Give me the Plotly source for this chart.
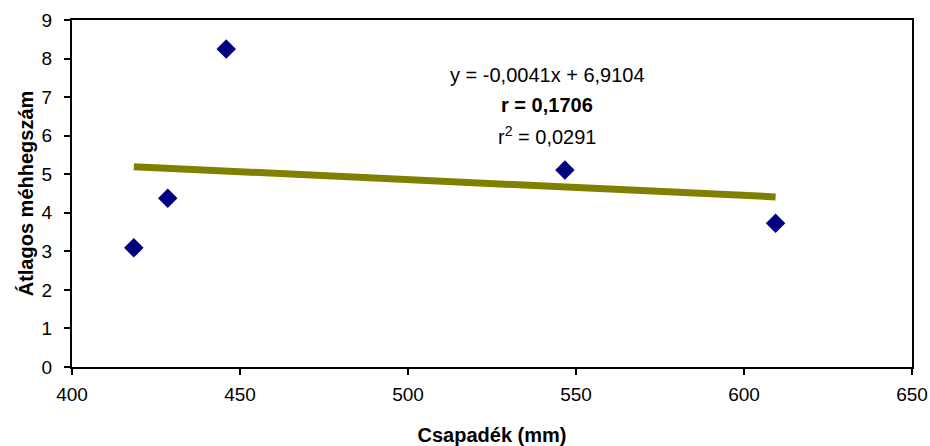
import plotly.graph_objects as go

# Annual rainfall (mm) vs. average number of uterine (méhheg) cases
rainfall = [418.4, 428.5, 445.9, 546.7, 609.4]
avg_count = [3.09, 4.38, 8.25, 5.11, 3.73]

# Linear trend: y = slope * x + intercept
slope = -0.0041
intercept = 6.9104
r_value = "0,1706"
r2_value = "0,0291"

x_ticks = [400, 450, 500, 550, 600, 650]
y_ticks = list(range(0, 10))

trend_x = [min(rainfall), max(rainfall)]
trend_y = [slope * x + intercept for x in trend_x]

font_family = "Liberation Sans, Arial, sans-serif"

fig = go.Figure()
fig.add_trace(go.Scatter(
    x=trend_x, y=trend_y, mode="lines",
    line=dict(color="#808000", width=7),
    hoverinfo="skip", showlegend=False,
))
fig.add_trace(go.Scatter(
    x=rainfall, y=avg_count, mode="markers",
    marker=dict(symbol="diamond", size=15, color="#000080"),
    showlegend=False,
))

# Regression statistics, one line per annotation
stat_lines = [
    f"y = {slope:.4f}x + {intercept:.4f}".replace(".", ","),
    f"<b>r = {r_value}</b>",
    f"r<sup>2</sup> = {r2_value}",
]
stat_y = [0.841, 0.755, 0.667]
for text, yy in zip(stat_lines, stat_y):
    fig.add_annotation(
        x=0.566, y=yy, xref="paper", yref="paper",
        text=text, showarrow=False, align="center",
        xanchor="center", yanchor="middle",
        font=dict(family=font_family, size=20, color="black"),
    )

axis_common = dict(
    showline=True, linecolor="black", linewidth=2, mirror=True,
    ticks="outside", ticklen=6, tickwidth=1.5, tickcolor="black",
    showgrid=False, zeroline=False, automargin=False,
    tickfont=dict(family=font_family, size=19, color="black"),
)

fig.update_xaxes(
    range=[400, 650], tickvals=x_ticks, ticklabelstandoff=3,
    title=dict(text="<b>Csapadék (mm)</b>", standoff=25,
               font=dict(family=font_family, size=20, color="black")),
    **axis_common,
)
fig.update_yaxes(
    range=[0, 9], tickvals=y_ticks, ticklabelstandoff=8,
    title=dict(text="<b>Átlagos méhhegszám</b>", standoff=3,
               font=dict(family=font_family, size=20, color="black")),
    **axis_common,
)

fig.update_layout(
    width=930, height=446,
    margin=dict(l=72, r=18, t=20, b=79),
    paper_bgcolor="white", plot_bgcolor="white",
)

fig.write_html("out.html")
